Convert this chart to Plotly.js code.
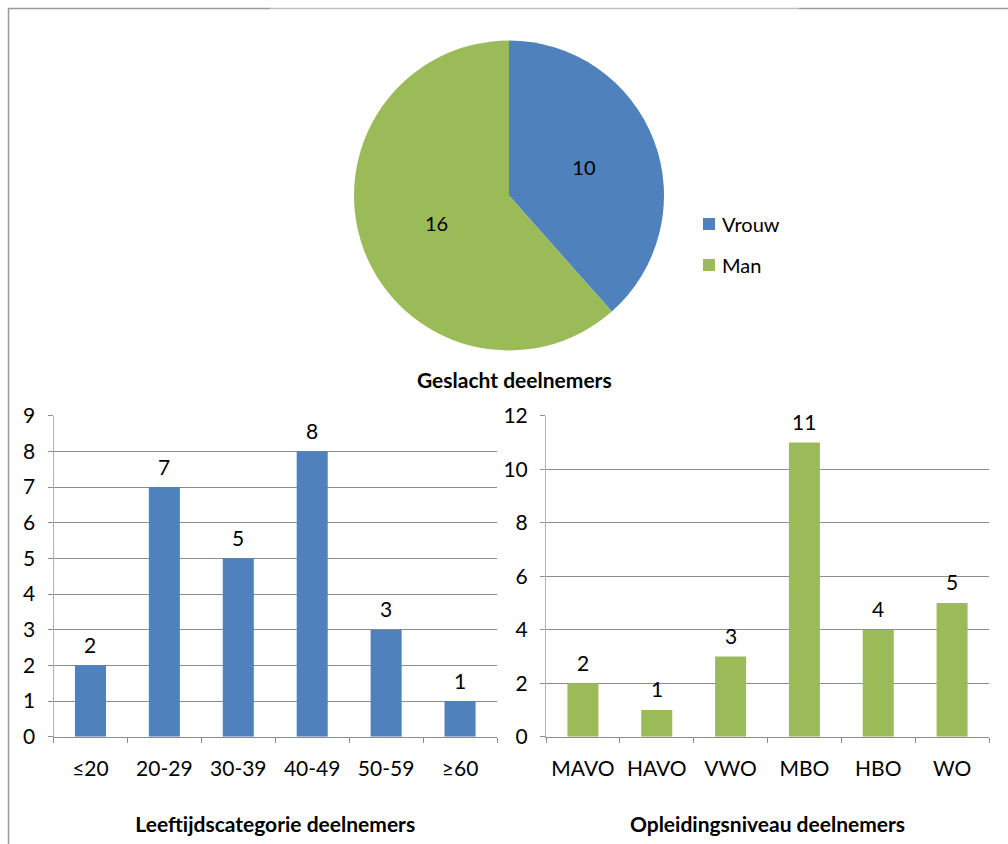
<!DOCTYPE html>
<html>
<head>
<meta charset="utf-8">
<script src="https://cdn.plot.ly/plotly-3.0.1.min.js"></script>
<style>html,body{margin:0;padding:0;background:#fff;}#chart{width:1008px;height:844px;}</style>
</head>
<body>
<div id="chart"></div>
<script>
// ---- data ----
const genderLabels = ['Vrouw', 'Man'];
const genderCounts = [10, 16];
const ageCategories = ['≤20', '20-29', '30-39', '40-49', '50-59', '≥60'];
const ageCounts = [2, 7, 5, 8, 3, 1];
const eduCategories = ['MAVO', 'HAVO', 'VWO', 'MBO', 'HBO', 'WO'];
const eduCounts = [2, 1, 3, 11, 4, 5];
const pieTitle = 'Geslacht deelnemers';
const ageTitle = 'Leeftijdscategorie deelnemers';
const eduTitle = 'Opleidingsniveau deelnemers';

// ---- styling ----
const W = 1008, H = 844;
const X = p => p / W;
const Y = p => 1 - p / H;
const BLUE = '#4F81BD', GREEN = '#9BBB59';
const FONT = 'Lato, "Open Sans", sans-serif';
const FS = 21;

const traces = [
  {
    type: 'pie',
    labels: genderLabels,
    values: genderCounts,
    sort: false,
    direction: 'clockwise',
    rotation: 0,
    marker: {colors: [BLUE, GREEN], line: {width: 0}},
    textinfo: 'value',
    textposition: 'inside',
    insidetextorientation: 'horizontal',
    textfont: {family: FONT, size: 20, color: '#000'},
    domain: {x: [X(354), X(664)], y: [Y(350.5), Y(40.5)]},
    showlegend: false,
    hoverinfo: 'label+value'
  },
  {
    type: 'bar',
    x: ageCategories,
    y: ageCounts,
    marker: {color: BLUE},
    xaxis: 'x', yaxis: 'y',
    showlegend: false
  },
  {
    type: 'bar',
    x: eduCategories,
    y: eduCounts,
    marker: {color: GREEN},
    xaxis: 'x2', yaxis: 'y2',
    showlegend: false
  }
];

function xAxis(domain, anchor, title) {
  return {
    domain: domain, anchor: anchor, type: 'category',
    showline: true, linecolor: '#8c8c8c', linewidth: 1,
    ticks: 'outside', tickson: 'boundaries', ticklen: 5, tickcolor: '#8c8c8c',
    showgrid: false, zeroline: false,
    tickfont: {family: FONT, size: FS, color: '#000'},
    ticklabelstandoff: 13,
    title: {text: '<b>' + title + '</b>', font: {family: FONT, size: FS, color: '#000'}, standoff: 38},
    fixedrange: true
  };
}
function yAxis(domain, anchor, max, dtick) {
  return {
    domain: domain, anchor: anchor, range: [0, max], dtick: dtick,
    showline: true, linecolor: '#b4b4b4', linewidth: 1,
    ticks: 'outside', ticklen: 5, tickcolor: '#8c8c8c',
    showgrid: true, gridcolor: '#8c8c8c', gridwidth: 1, zeroline: false,
    tickfont: {family: FONT, size: FS, color: '#000'},
    ticklabelstandoff: 8,
    fixedrange: true
  };
}

const annotations = [];
ageCategories.forEach((c, i) => annotations.push({
  xref: 'x', yref: 'y', x: c, y: ageCounts[i], yshift: 21, showarrow: false,
  text: String(ageCounts[i]), font: {family: FONT, size: FS, color: '#000'}
}));
eduCategories.forEach((c, i) => annotations.push({
  xref: 'x2', yref: 'y2', x: c, y: eduCounts[i], yshift: 21, showarrow: false,
  text: String(eduCounts[i]), font: {family: FONT, size: FS, color: '#000'}
}));
annotations.push({
  xref: 'paper', yref: 'paper', x: X(514), y: Y(379), showarrow: false,
  xanchor: 'center', yanchor: 'middle',
  text: '<b>' + pieTitle + '</b>', font: {family: FONT, size: FS, color: '#000'}
});
// manual legend for the pie
const shapes = [];
const legendColors = [BLUE, GREEN];
genderLabels.forEach((lab, i) => {
  const cy = 224 + i * 41;
  shapes.push({type: 'rect', xref: 'paper', yref: 'paper',
    x0: X(703), x1: X(715), y0: Y(cy + 6), y1: Y(cy - 6),
    fillcolor: legendColors[i], line: {width: 0}});
  annotations.push({xref: 'paper', yref: 'paper', x: X(720), y: Y(cy), showarrow: false,
    xanchor: 'left', yanchor: 'middle', text: lab,
    font: {family: FONT, size: 20, color: '#000'}});
});
// outer frame
shapes.push({type: 'line', xref: 'paper', yref: 'paper', x0: X(8.5), x1: X(8.5), y0: Y(8), y1: 0, line: {color: '#9a9a9a', width: 1.5}});
shapes.push({type: 'line', xref: 'paper', yref: 'paper', x0: X(8), x1: X(270), y0: Y(8.5), y1: Y(8.5), line: {color: '#9a9a9a', width: 1.5}});
shapes.push({type: 'line', xref: 'paper', yref: 'paper', x0: X(270), x1: X(799), y0: Y(8.5), y1: Y(8.5), line: {color: '#bfbfbf', width: 1.5}});
shapes.push({type: 'line', xref: 'paper', yref: 'paper', x0: X(799), x1: 1, y0: Y(8.5), y1: Y(8.5), line: {color: '#9a9a9a', width: 1.5}});

const layout = {
  width: W, height: H,
  margin: {l: 0, r: 0, t: 0, b: 0},
  paper_bgcolor: '#fff', plot_bgcolor: 'rgba(0,0,0,0)',
  font: {family: FONT, size: FS, color: '#000'},
  showlegend: false,
  bargap: 0.58,
  xaxis: xAxis([X(53.5), X(497)], 'y', ageTitle),
  yaxis: yAxis([Y(736.7), Y(415.7)], 'x', 9, 1),
  xaxis2: xAxis([X(546), X(989)], 'y2', eduTitle),
  yaxis2: yAxis([Y(736.7), Y(415.7)], 'x2', 12, 2),
  annotations: annotations,
  shapes: shapes
};

Plotly.newPlot('chart', traces, layout, {displayModeBar: false, staticPlot: true});
</script>
</body>
</html>
